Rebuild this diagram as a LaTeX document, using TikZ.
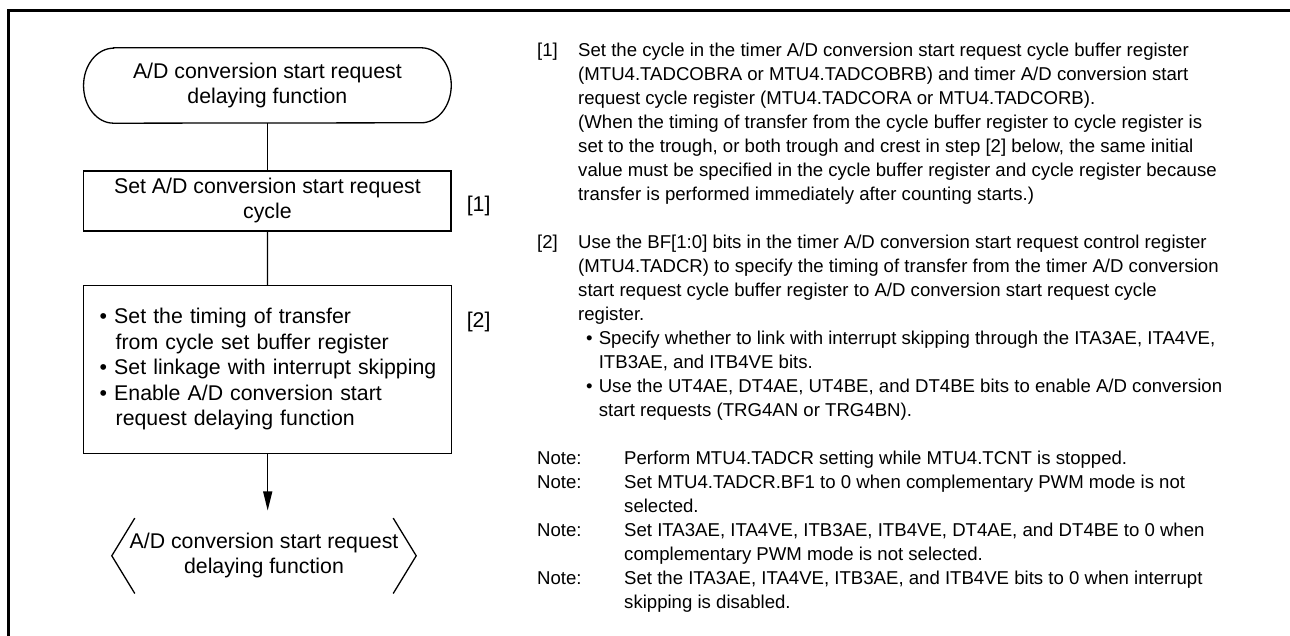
\documentclass[tikz,border=0pt]{standalone}
\usepackage{fontspec}
\setmainfont{Liberation Sans}
\usetikzlibrary{arrows.meta}
\newcommand\lftfont{\fontsize{21.3}{25}\selectfont}
\newcommand\lftfontb{\fontsize{21.3}{25.5}\selectfont}
\newcommand\rgtfont{\fontsize{18.6}{24}\selectfont}
\begin{document}
\begin{tikzpicture}[x=1pt,y=1pt,
  box/.style={draw, line width=1.3pt, inner sep=0pt, font=\lftfont, align=center},
  term/.style={inner sep=0pt, font=\lftfont, align=center},
  lab/.style={anchor=west, inner sep=0pt, font=\lftfont},
  rt/.style={anchor=base west, inner sep=0pt, font=\rgtfont},
  conn/.style={line width=1.3pt},
  frame/.style={line width=3pt}]
\useasboundingbox (0,0) rectangle (1290,636);
\draw[frame] (8.8,0) -- (8.8,625.5) -- (1290,625.5);

% start terminal
\node[term, minimum width=367.3pt, minimum height=75pt] (start) at (267.4,550.5)
  {A/D conversion start request\\delaying function};
\draw[conn] ([xshift=30pt]start.north west) -- ([xshift=-30pt]start.north east)
  arc[start angle=90,end angle=-90,x radius=30pt,y radius=37.5pt]
  -- ([xshift=30pt]start.south west)
  arc[start angle=270,end angle=90,x radius=30pt,y radius=37.5pt] -- cycle;

% step boxes
\node[box, minimum width=367.3pt, minimum height=60pt] (b1) at (267.4,435)
  {Set A/D conversion start request\\cycle};
\node[box, font=\lftfontb, align=left, text width=336pt, inner xsep=16pt, minimum height=167.6pt] (b2) at (267.7,266.5)
  {\mbox{• Set the timing of transfer}\\
   \mbox{\hspace*{16pt}from cycle set buffer register}\\
   \mbox{• Set linkage with interrupt skipping}\\
   \mbox{• Enable A/D conversion start}\\
   \mbox{\hspace*{16pt}request delaying function}};

\node[lab] (l1) at (466.6,430) {[1]};
\node[lab] (l2) at (466.6,314.3) {[2]};

% end terminal
\node[term, minimum width=304pt, minimum height=75pt] (stop) at (264,80.2)
  {A/D conversion start request\\delaying function};
\draw[conn] ([xshift=23pt]stop.north west) -- (stop.west) -- ([xshift=23pt]stop.south west);
\draw[conn] ([xshift=-23pt]stop.north east) -- (stop.east) -- ([xshift=-23pt]stop.south east);

% connectors
\draw[conn] (start) -- (b1);
\draw[conn] (b1) -- (b2);
\draw[conn, -{Triangle[length=19pt,width=9pt]}] (b2.south) -- ([yshift=7.6pt]b2.south |- stop.north);

% right-hand text
\node[rt] (n1) at (537,579.5) {[1]};
\node[rt] (t10) at (578,579.5) {Set the cycle in the timer A/D conversion start request cycle buffer register};
\node[rt] (t11) at (578,555.5) {(MTU4.TADCOBRA or MTU4.TADCOBRB) and timer A/D conversion start};
\node[rt] (t12) at (578,531.5) {request cycle register (MTU4.TADCORA or MTU4.TADCORB).};
\node[rt] (t13) at (578,507.5) {(When the timing of transfer from the cycle buffer register to cycle register is};
\node[rt] (t14) at (578,483.5) {set to the trough, or both trough and crest in step [2] below, the same initial};
\node[rt] (t15) at (578,459.5) {value must be specified in the cycle buffer register and cycle register because};
\node[rt] (t16) at (578,435.5) {transfer is performed immediately after counting starts.)};

\node[rt] (n2) at (537,387.5) {[2]};
\node[rt] (t20) at (578,387.5) {Use the BF[1:0] bits in the timer A/D conversion start request control register};
\node[rt] (t21) at (578,363.5) {(MTU4.TADCR) to specify the timing of transfer from the timer A/D conversion};
\node[rt] (t22) at (578,339.5) {start request cycle buffer register to A/D conversion start request cycle};
\node[rt] (t23) at (578,315.5) {register.};
\node[rt] (d1) at (586,291.5) {•};
\node[rt] (t24) at (598.6,291.5) {Specify whether to link with interrupt skipping through the ITA3AE, ITA4VE,};
\node[rt] (t25) at (598.6,267.5) {ITB3AE, and ITB4VE bits.};
\node[rt] (d2) at (586,243.5) {•};
\node[rt] (t26) at (598.6,243.5) {Use the UT4AE, DT4AE, UT4BE, and DT4BE bits to enable A/D conversion};
\node[rt] (t27) at (598.6,219.5) {start requests (TRG4AN or TRG4BN).};

\node[rt] (m1) at (537,171.5) {Note:};
\node[rt] (u1) at (624,171.5) {Perform MTU4.TADCR setting while MTU4.TCNT is stopped.};
\node[rt] (m2) at (537,147.5) {Note:};
\node[rt] (u2) at (624,147.5) {Set MTU4.TADCR.BF1 to 0 when complementary PWM mode is not};
\node[rt] (u2b) at (624,123.5) {selected.};
\node[rt] (m3) at (537,99.5) {Note:};
\node[rt] (u3) at (624,99.5) {Set ITA3AE, ITA4VE, ITB3AE, ITB4VE, DT4AE, and DT4BE to 0 when};
\node[rt] (u3b) at (624,75.5) {complementary PWM mode is not selected.};
\node[rt] (m4) at (537,51.5) {Note:};
\node[rt] (u4) at (624,51.5) {Set the ITA3AE, ITA4VE, ITB3AE, and ITB4VE bits to 0 when interrupt};
\node[rt] (u4b) at (624,27.5) {skipping is disabled.};
\end{tikzpicture}
\end{document}
